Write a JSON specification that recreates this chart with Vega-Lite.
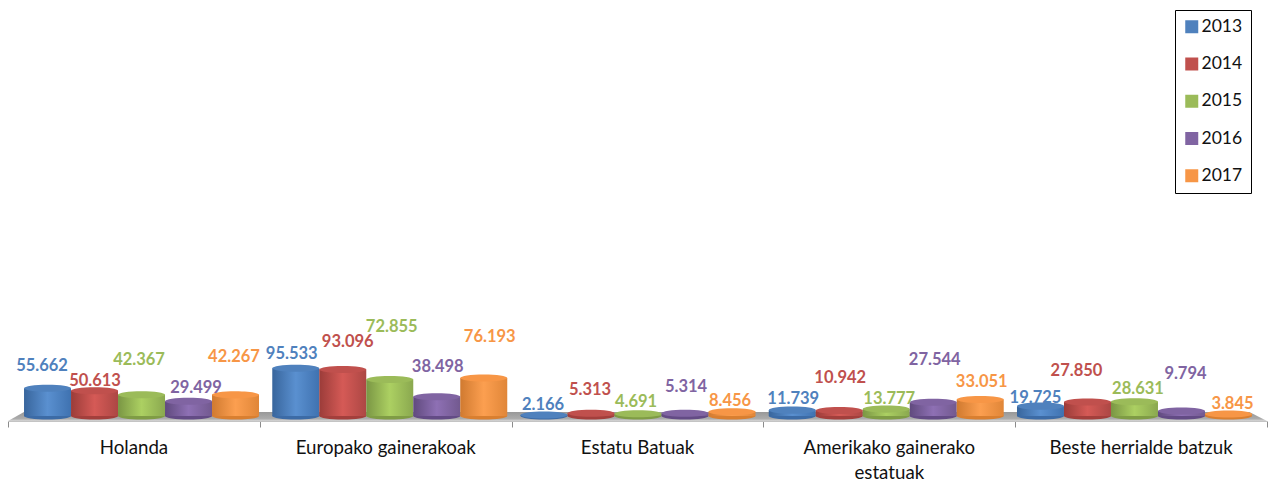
{
"$schema":"https://vega.github.io/schema/vega-lite/v6.json",
"width":1259,"height":411,
"autosize":{"type":"none"},
"padding":{"left":8,"top":10,"right":2,"bottom":61},
"background":"white",
"config":{"view":{"stroke":null},"font":"Lato"},
"datasets":{"balioak":[
{"herrialdea":"Holanda","urtea":"2013","balioa":55662,"etiketa":"55.662"},
{"herrialdea":"Holanda","urtea":"2014","balioa":50613,"etiketa":"50.613"},
{"herrialdea":"Holanda","urtea":"2015","balioa":42367,"etiketa":"42.367"},
{"herrialdea":"Holanda","urtea":"2016","balioa":29499,"etiketa":"29.499"},
{"herrialdea":"Holanda","urtea":"2017","balioa":42267,"etiketa":"42.267"},
{"herrialdea":"Europako gainerakoak","urtea":"2013","balioa":95533,"etiketa":"95.533"},
{"herrialdea":"Europako gainerakoak","urtea":"2014","balioa":93096,"etiketa":"93.096"},
{"herrialdea":"Europako gainerakoak","urtea":"2015","balioa":72855,"etiketa":"72.855"},
{"herrialdea":"Europako gainerakoak","urtea":"2016","balioa":38498,"etiketa":"38.498"},
{"herrialdea":"Europako gainerakoak","urtea":"2017","balioa":76193,"etiketa":"76.193"},
{"herrialdea":"Estatu Batuak","urtea":"2013","balioa":2166,"etiketa":"2.166"},
{"herrialdea":"Estatu Batuak","urtea":"2014","balioa":5313,"etiketa":"5.313"},
{"herrialdea":"Estatu Batuak","urtea":"2015","balioa":4691,"etiketa":"4.691"},
{"herrialdea":"Estatu Batuak","urtea":"2016","balioa":5314,"etiketa":"5.314"},
{"herrialdea":"Estatu Batuak","urtea":"2017","balioa":8456,"etiketa":"8.456"},
{"herrialdea":"Amerikako gainerako estatuak","urtea":"2013","balioa":11739,"etiketa":"11.739"},
{"herrialdea":"Amerikako gainerako estatuak","urtea":"2014","balioa":10942,"etiketa":"10.942"},
{"herrialdea":"Amerikako gainerako estatuak","urtea":"2015","balioa":13777,"etiketa":"13.777"},
{"herrialdea":"Amerikako gainerako estatuak","urtea":"2016","balioa":27544,"etiketa":"27.544"},
{"herrialdea":"Amerikako gainerako estatuak","urtea":"2017","balioa":33051,"etiketa":"33.051"},
{"herrialdea":"Beste herrialde batzuk","urtea":"2013","balioa":19725,"etiketa":"19.725"},
{"herrialdea":"Beste herrialde batzuk","urtea":"2014","balioa":27850,"etiketa":"27.850"},
{"herrialdea":"Beste herrialde batzuk","urtea":"2015","balioa":28631,"etiketa":"28.631"},
{"herrialdea":"Beste herrialde batzuk","urtea":"2016","balioa":9794,"etiketa":"9.794"},
{"herrialdea":"Beste herrialde batzuk","urtea":"2017","balioa":3845,"etiketa":"3.845"}
]},
"data":{"name":"balioak"},
"resolve":{"scale":{"x":"independent"},"axis":{"x":"independent"}},
"layer":[
{"data":{"values":[{"k":0,"goi":-10000,"behe":-10000},{"k":0.0635,"goi":8000,"behe":-10000},{"k":4.93,"goi":8000,"behe":-10000},{"k":5,"goi":-10000,"behe":-10000}]},
 "mark":{"type":"area","color":{"gradient":"linear","x1":0,"y1":0,"x2":0,"y2":1,"stops":[{"offset":0,"color":"#989898"},{"offset":0.75,"color":"#acacac"},{"offset":1,"color":"#d8d8d8"}]}},
 "encoding":{
  "x":{"field":"k","type":"quantitative","scale":{"domain":[0,5],"nice":false,"zero":false},
   "axis":{"orient":"bottom","values":[0,1,2,3,4,5],"labels":false,"title":null,"grid":false,"ticks":true,"tickSize":6,"tickColor":"#8c8c8c","tickWidth":1,"domain":true,"domainColor":"#c4c4c4","domainWidth":1}},
  "y":{"field":"goi","type":"quantitative","scale":{"domain":[-10000,812000],"nice":false,"zero":false},"axis":null},
  "y2":{"field":"behe"}
 }},
{"mark":{"type":"point","opacity":0},
 "encoding":{
  "x":{"field":"herrialdea","type":"nominal","sort":null,"scale":{"type":"band","paddingInner":0,"paddingOuter":0},
   "axis":{"orient":"bottom","title":null,"ticks":false,"domain":false,"grid":false,"labelAngle":0,"labelFont":"Lato","labelFontSize":18.7,"labelColor":"#111111","labelPadding":17,"labelBaseline":"top","labelLineHeight":25,"labelOverlap":false,"labelLimit":400,
    "labelExpr":"datum.value == 'Amerikako gainerako estatuak' ? ['Amerikako gainerako','estatuak'] : datum.label"}},
  "y":{"datum":0,"type":"quantitative","scale":{"domain":[-10000,812000],"nice":false,"zero":false},"axis":null}
 }},
{"encoding":{
  "x":{"field":"herrialdea","type":"nominal","sort":null,"axis":null,"scale":{"type":"band","range":[9.4,1250.6],"paddingInner":0,"paddingOuter":0}},
  "xOffset":{"field":"urtea","type":"nominal","scale":{"paddingInner":0,"paddingOuter":0.141}},
  "y":{"field":"balioa","type":"quantitative","scale":{"domain":[-10000,812000],"nice":false,"zero":false},"axis":null}
 },
 "layer":[
 {"mark":{"type":"point","filled":true,"opacity":1,"size":2209,"strokeWidth":0,"shape":"M-1,0 A1,0.15 0 1 1 1,0 A1,0.15 0 1 1 -1,0 Z"},
  "encoding":{
   "y":{"datum":0,"type":"quantitative","scale":{"domain":[-10000,812000],"nice":false,"zero":false},"axis":null},
   "fill":{"field":"urtea","type":"nominal","legend":null,"scale":{"range":["#3c6ba6","#a33f3c","#7f9c45","#634b85","#d97f30"]}}
  }},
 {"transform":[{"filter":"datum.urtea == '2013'"}],"mark":{"type":"bar","opacity":1,"fill":{"gradient":"linear","x1":0,"y1":0,"x2":1,"y2":0,"stops":[{"offset":0,"color":"#38659c"},{"offset":0.5,"color":"#5a90d0"},{"offset":1,"color":"#3f72b0"}]}},"encoding":{"y2":{"datum":0}}},
 {"transform":[{"filter":"datum.urtea == '2014'"}],"mark":{"type":"bar","opacity":1,"fill":{"gradient":"linear","x1":0,"y1":0,"x2":1,"y2":0,"stops":[{"offset":0,"color":"#9b3c39"},{"offset":0.5,"color":"#d55a56"},{"offset":1,"color":"#ac4744"}]}},"encoding":{"y2":{"datum":0}}},
 {"transform":[{"filter":"datum.urtea == '2015'"}],"mark":{"type":"bar","opacity":1,"fill":{"gradient":"linear","x1":0,"y1":0,"x2":1,"y2":0,"stops":[{"offset":0,"color":"#7a9644"},{"offset":0.5,"color":"#acd062"},{"offset":1,"color":"#8aa84f"}]}},"encoding":{"y2":{"datum":0}}},
 {"transform":[{"filter":"datum.urtea == '2016'"}],"mark":{"type":"bar","opacity":1,"fill":{"gradient":"linear","x1":0,"y1":0,"x2":1,"y2":0,"stops":[{"offset":0,"color":"#604a7e"},{"offset":0.5,"color":"#8e70b4"},{"offset":1,"color":"#72598f"}]}},"encoding":{"y2":{"datum":0}}},
 {"transform":[{"filter":"datum.urtea == '2017'"}],"mark":{"type":"bar","opacity":1,"fill":{"gradient":"linear","x1":0,"y1":0,"x2":1,"y2":0,"stops":[{"offset":0,"color":"#d07a30"},{"offset":0.5,"color":"#fc9f50"},{"offset":1,"color":"#e08638"}]}},"encoding":{"y2":{"datum":0}}},
 {"mark":{"type":"point","filled":true,"opacity":1,"size":2209,"strokeWidth":0,"shape":"M-1,0 A1,0.15 0 1 1 1,0 A1,0.15 0 1 1 -1,0 Z"},
  "encoding":{
   "color":{"field":"urtea","type":"nominal","scale":{"range":["#4f81bd","#c0504d","#9bbb59","#8064a2","#f79646"]},
    "legend":{"orient":"none","legendX":1167,"legendY":0,"title":null,"symbolType":"square","symbolSize":169,"symbolStrokeWidth":0,"symbolOpacity":1,"labelFont":"Lato","labelFontSize":17.5,"labelColor":"#111111","strokeColor":"black","fillColor":"white","padding":8,"rowPadding":18.25,"labelOffset":1,"columns":1}}
  }},
 {"mark":{"type":"text","font":"Lato","fontWeight":"bold","fontSize":16.5,"baseline":"middle","align":"center",
   "dx":{"expr":"({'55.662':-5.5,'50.613':0.5,'42.367':-2.5,'29.499':7.5,'42.267':-1.5,'95.533':-4,'93.096':5,'72.855':2,'38.498':1,'76.193':6,'2.166':-1,'5.313':-1,'4.691':-2,'5.314':1,'8.456':-2,'11.739':1,'10.942':1,'13.777':3,'27.544':1.5,'33.051':1.5,'19.725':-5,'27.850':-11,'28.631':3.5,'9.794':4,'3.845':4})[datum.etiketa]"},
   "dy":{"expr":"0.8+({'55.662':-23,'50.613':-10,'42.367':-36,'29.499':-14.5,'42.267':-39,'95.533':-15,'93.096':-28,'72.855':-53,'38.498':-31,'76.193':-42,'2.166':-11,'5.313':-24,'4.691':-12,'5.314':-27,'8.456':-12,'11.739':-12,'10.942':-33,'13.777':-11,'27.544':-43,'33.051':-18,'19.725':-9,'27.850':-32,'28.631':-13,'9.794':-38,'3.845':-11})[datum.etiketa]"}},
  "encoding":{
   "text":{"field":"etiketa","type":"nominal"},
   "color":{"field":"urtea","type":"nominal"}
  }}
 ]}
]}
